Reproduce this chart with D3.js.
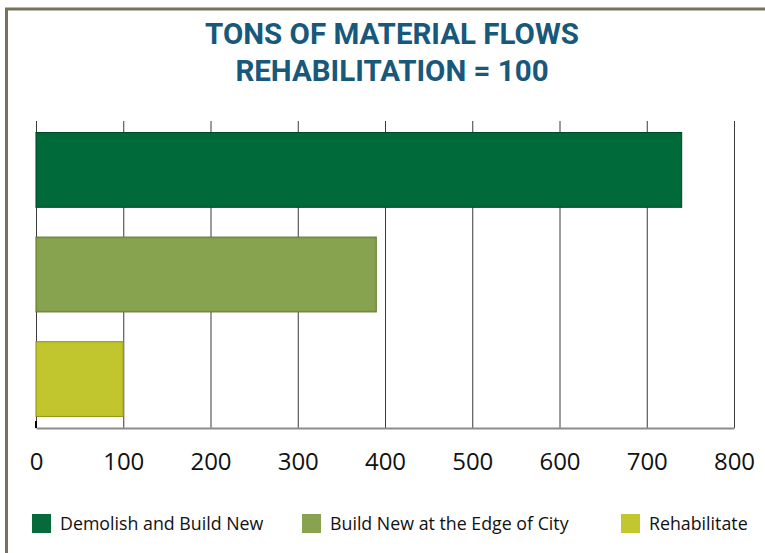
<!DOCTYPE html>
<html>
<head>
<meta charset="utf-8">
<script src="https://cdn.jsdelivr.net/npm/d3@7"></script>
<style>
  body { margin: 0; background: #fff; }
  svg { display: block; }
</style>
</head>
<body>
<svg id="chart" width="765" height="553"></svg>
<script>
// chart values
const categories = ["Demolish and Build New", "Build New at the Edge of City", "Rehabilitate"];
const tons = [740, 390, 100];
const colors = ["#066a3a", "#87a34f", "#c2c62f"];
const edgeColors = ["#03502a", "#6a8439", "#9ea324"];
const xTicks = [0, 100, 200, 300, 400, 500, 600, 700, 800];
const titleLines = ["TONS OF MATERIAL FLOWS", "REHABILITATION = 100"];

const margin = {top: 121, right: 31, bottom: 125, left: 36};
const width = 765, height = 553;

const svg = d3.select("#chart");

// frame: only top and left edges show in the picture
svg.append("path")
    .attr("d", `M6.5,553V9H765`)
    .attr("fill", "none")
    .attr("stroke", "#77725d")
    .attr("stroke-width", 3);

// soft inner edge on bars
const defs = svg.append("defs");
const f = defs.append("filter").attr("id", "inner").attr("x", "-5%").attr("y", "-5%").attr("width", "110%").attr("height", "110%");
f.append("feFlood").attr("flood-color", "#000").attr("flood-opacity", 0.35).attr("result", "c");
f.append("feComposite").attr("in", "c").attr("in2", "SourceAlpha").attr("operator", "out").attr("result", "o");
f.append("feGaussianBlur").attr("in", "o").attr("stdDeviation", 1.6).attr("result", "b");
f.append("feComposite").attr("in", "b").attr("in2", "SourceAlpha").attr("operator", "in").attr("result", "s");
const fm = f.append("feMerge");
fm.append("feMergeNode").attr("in", "SourceGraphic");
fm.append("feMergeNode").attr("in", "s");

const x = d3.scaleLinear()
    .domain([0, 800])
    .range([margin.left, width - margin.right]);

const y = d3.scaleBand()
    .domain(categories)
    .range([margin.top, height - margin.bottom])
    .paddingInner(0.285)
    .paddingOuter(0.11);

// title
svg.append("g")
    .selectAll("text")
    .data(titleLines)
    .join("text")
    .attr("x", 392)
    .attr("y", (d, i) => 44 + i * 37)
    .attr("text-anchor", "middle")
    .attr("font-family", "Roboto, 'Open Sans', sans-serif")
    .attr("font-weight", 700)
    .attr("font-size", 29.5)
    .attr("fill", "#17587b")
    .text(d => d);

// vertical gridlines
svg.append("g")
    .selectAll("line")
    .data(xTicks)
    .join("line")
    .attr("x1", d => x(d) + 0.5)
    .attr("x2", d => x(d) + 0.5)
    .attr("y1", margin.top)
    .attr("y2", height - margin.bottom)
    .attr("stroke", "#3a3a3a")
    .attr("stroke-width", 1);

// bars
svg.append("g")
    .selectAll("rect")
    .data(categories)
    .join("rect")
    .attr("x", x(0))
    .attr("y", d => y(d))
    .attr("width", (d, i) => x(tons[i]) - x(0))
    .attr("height", y.bandwidth())
    .attr("fill", (d, i) => colors[i])
    .attr("stroke", (d, i) => edgeColors[i])
    .attr("stroke-width", 1)
    .attr("filter", "url(#inner)");

// x axis
const xAxis = svg.append("g")
    .attr("transform", `translate(0,${height - margin.bottom})`)
    .call(d3.axisBottom(x).tickValues(xTicks).tickSize(0).tickPadding(25));
xAxis.select(".domain")
    .attr("stroke", "#8c8c8c")
    .attr("stroke-width", 2);
xAxis.selectAll("text")
    .attr("font-family", "'Open Sans', sans-serif")
    .attr("font-size", 24)
    .attr("fill", "#111");

// short black mark at zero, like the reference
svg.append("line")
    .attr("x1", x(0)).attr("x2", x(0))
    .attr("y1", height - margin.bottom - 7)
    .attr("y2", height - margin.bottom)
    .attr("stroke", "#000")
    .attr("stroke-width", 2);

// legend
const legendX = [32, 302, 621];
const legend = svg.append("g")
    .selectAll("g")
    .data(categories)
    .join("g")
    .attr("transform", (d, i) => `translate(${legendX[i]},514)`);
legend.append("rect")
    .attr("width", 19)
    .attr("height", 19)
    .attr("fill", (d, i) => colors[i]);
legend.append("text")
    .attr("x", 28)
    .attr("y", 16)
    .attr("font-family", "'Open Sans', sans-serif")
    .attr("font-size", 17.8)
    .attr("fill", "#111")
    .text(d => d);
</script>
</body>
</html>
